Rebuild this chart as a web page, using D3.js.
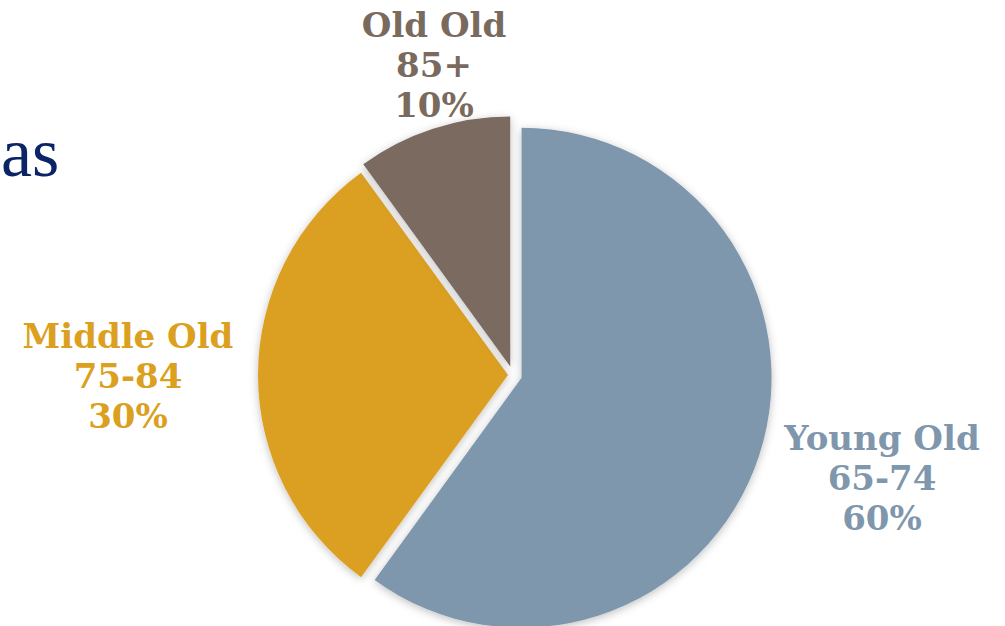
<!DOCTYPE html>
<html>
<head>
<meta charset="utf-8">
<script src="https://cdn.jsdelivr.net/npm/d3@7"></script>
<style>
  html, body { margin: 0; padding: 0; background: #ffffff; }
  svg { display: block; }
</style>
</head>
<body>
<svg id="chart" width="1005" height="626"></svg>
<script>
// Age-group shares of the older population
const groups = ["Young Old", "Middle Old", "Old Old"];
const ranges = ["65-74", "75-84", "85+"];
const shares = [60, 30, 10];

const colors = ["#7f97ad", "#dba020", "#7a6a5e"];

const W = 1005, H = 626;
const cx = 513, cy = 375, radius = 250;
// how far each wedge is pulled out from the centre
const explode = [9, 5, 9];
// label anchor (centre of the middle line) for each wedge
const labelAt = [[882, 490], [128, 388], [434, 77]];

const svg = d3.select("#chart");

const defs = svg.append("defs");
const shadow = defs.append("filter")
  .attr("id", "soft-shadow")
  .attr("x", "-20%").attr("y", "-20%")
  .attr("width", "140%").attr("height", "140%");
shadow.append("feDropShadow")
  .attr("dx", 0).attr("dy", 2)
  .attr("stdDeviation", 4)
  .attr("flood-color", "#000")
  .attr("flood-opacity", 0.25);

// Title fragment on the left edge
svg.append("text")
  .attr("x", 1).attr("y", 176)
  .attr("text-anchor", "start")
  .attr("font-family", "'Liberation Serif', 'DejaVu Serif', serif")
  .attr("font-size", 70)
  .attr("fill", "#0b2465")
  .text("as");

const pie = d3.pie().sort(null).value(d => d);
const arcs = pie(shares);
const arc = d3.arc().innerRadius(0).outerRadius(radius);

const g = svg.append("g").attr("transform", `translate(${cx},${cy})`);

g.selectAll("path.slice")
  .data(arcs)
  .join("path")
  .attr("class", "slice")
  .attr("d", arc)
  .attr("fill", (d, i) => colors[i])
  .attr("filter", "url(#soft-shadow)")
  .attr("transform", (d, i) => {
    const a = (d.startAngle + d.endAngle) / 2;
    return `translate(${Math.sin(a) * explode[i]},${-Math.cos(a) * explode[i]})`;
  });

// Three-line labels: group name, age range, share
const labels = svg.selectAll("text.lbl")
  .data(arcs)
  .join("text")
  .attr("class", "lbl")
  .attr("text-anchor", "middle")
  .attr("font-family", "'DejaVu Serif', serif")
  .attr("font-weight", "bold")
  .attr("font-size", 34)
  .attr("fill", (d, i) => colors[i]);

labels.each(function(d, i) {
  const t = d3.select(this);
  const [x, y] = labelAt[i];
  const lines = [groups[i], ranges[i], d.data + "%"];
  lines.forEach((s, k) => {
    t.append("tspan")
      .attr("x", x)
      .attr("y", y + (k - 1) * 40)
      .text(s);
  });
});
</script>
</body>
</html>
